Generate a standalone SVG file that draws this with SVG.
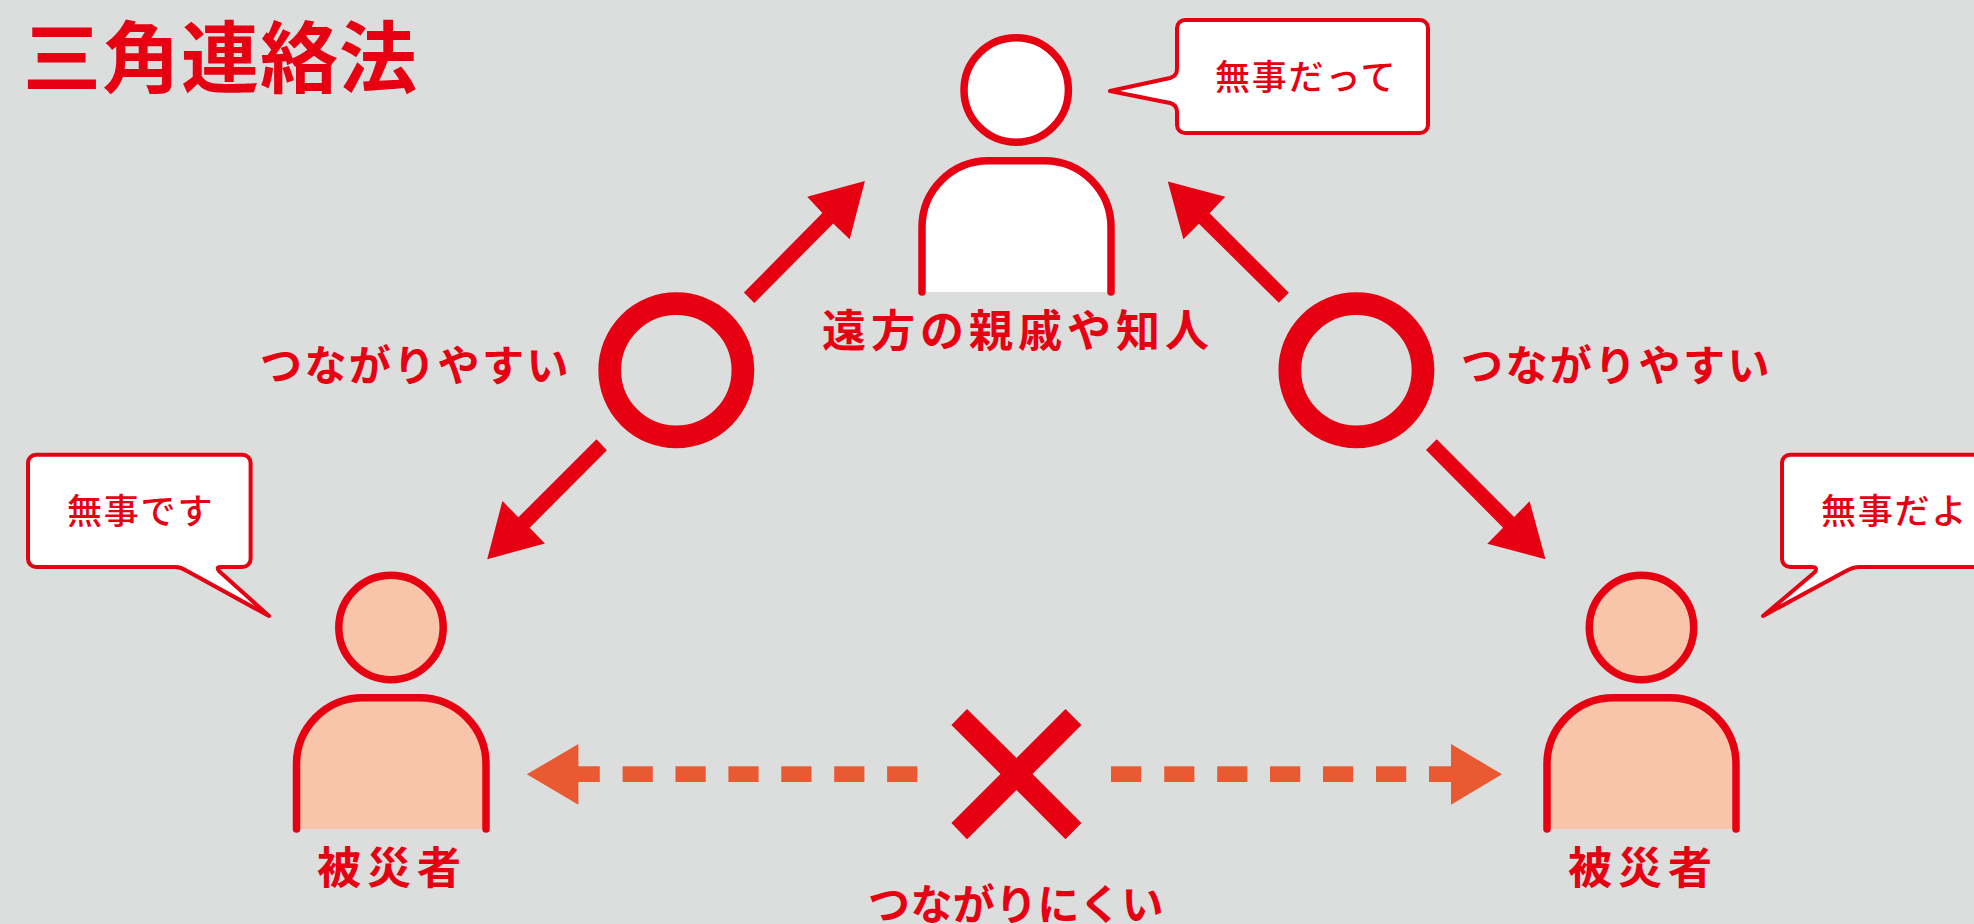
<svg xmlns="http://www.w3.org/2000/svg" width="1974" height="924" viewBox="0 0 1974 924">
<style>
text{font-family:"Noto Sans CJK JP","Noto Sans CJK SC",sans-serif;fill:#e60012}
.title{font-size:78px;font-weight:700;letter-spacing:1px}
.lab{font-size:44px;font-weight:700;letter-spacing:5px}
.vic{font-size:44px;font-weight:700;letter-spacing:6px}
.link{font-size:42px;font-weight:700;letter-spacing:2.4px}
.link2{font-size:42px;font-weight:700;letter-spacing:0.4px}
.say{font-size:35px;font-weight:500;letter-spacing:1.8px}
.bub{fill:#fff;stroke:#e60012;stroke-width:4;stroke-linejoin:round}
.body,.head{stroke:#e60012;stroke-width:7.5;stroke-linecap:round}
.white{fill:#fff}.peach{fill:#f8c5ab}
.ring{fill:none;stroke:#e60012;stroke-width:22.7}
.solid{fill:#e60012}
.dash{fill:#ea5a32}
</style>
<rect width="1974" height="924" fill="#dcdddd"/>
<text id="title" class="title" x="23" y="87">三角連絡法</text>

<g id="connectors">
<circle class="ring" cx="676.3" cy="370.3" r="66.6"/>
<circle class="ring" cx="1356.4" cy="370.3" r="66.6"/>
<polygon class="solid" points="743.9,292.5 822.4,213 807.2,196.7 864.9,181 849.7,239.3 833.2,223.5 754.3,303"/>
<polygon class="solid" points="596.5,439.3 518.4,517.3 502.4,501 487.2,559.3 544.9,543.5 529.7,527.7 606.9,450.3"/>
<polygon class="solid" points="1288.8,292.7 1209.6,213.3 1225.2,196.7 1167.8,181.5 1183.4,239.3 1198.9,223.7 1278.8,302.7"/>
<polygon class="solid" points="1436.7,439.3 1514.1,517 1529.6,501.3 1545.5,559.3 1487.3,543.7 1503.1,527.7 1426,450"/>
<polygon class="solid" points="967,709 1016.5,758 1065.5,709 1081.4,725 1032.5,774 1081.4,823 1065.5,839.3 1016.5,790 967,839.3 951.4,823 1000.5,774 951.4,725"/>
<polygon class="dash" points="526.8,774.3 578.4,744 578.4,766.3 599.8,766.3 599.8,782 578.4,782 578.4,804.7"/>
<polygon class="dash" points="1502,774.3 1451,744 1451,766.3 1429,766.3 1429,782 1451,782 1451,804.7"/>
<g class="dash">
<rect x="622.6" y="766.3" width="30.2" height="15.7"/><rect x="675.5" y="766.3" width="30.2" height="15.7"/><rect x="728.4" y="766.3" width="30.2" height="15.7"/><rect x="781.3" y="766.3" width="30.2" height="15.7"/><rect x="834.2" y="766.3" width="30.2" height="15.7"/><rect x="887.1" y="766.3" width="30.2" height="15.7"/>
<rect x="1111" y="766.3" width="30.2" height="15.7"/><rect x="1164.2" y="766.3" width="30.2" height="15.7"/><rect x="1217.2" y="766.3" width="30.2" height="15.7"/><rect x="1270" y="766.3" width="30.2" height="15.7"/><rect x="1323" y="766.3" width="30.2" height="15.7"/><rect x="1376" y="766.3" width="30.2" height="15.7"/>
</g>
</g>

<g id="relative">
<circle class="head white" cx="1016.2" cy="90" r="52.2"/>
<path class="body white" d="M922 292V227A66.5 66.5 0 0 1 988.5 160.75H1044.5A66.5 66.5 0 0 1 1111 227V292"/>
<path class="bub" d="M1185 20H1420a8 8 0 0 1 8 8V125a8 8 0 0 1-8 8H1185a8 8 0 0 1-8-8V112Q1177 105 1170 103L1110 91L1170 78Q1177 76 1177 69V28a8 8 0 0 1 8-8Z"/>
<text class="say" x="1215" y="90">無事だって</text>
<text class="lab" x="822" y="347">遠方の親戚や知人</text>
</g>

<g id="victim-left">
<circle class="head peach" cx="391" cy="627.5" r="52.2"/>
<path class="body peach" d="M296.5 829V765A66.5 66.5 0 0 1 363 697.75H419.5A66.5 66.5 0 0 1 486 765V829"/>
<path class="bub" d="M36 454.7H242.6a8 8 0 0 1 8 8V559a8 8 0 0 1-8 8H220Q216 567 219 571L269 616L187 571Q181 567 175 567H36a8 8 0 0 1-8-8V462.7a8 8 0 0 1 8-8Z"/>
<text class="say" x="67" y="524">無事です</text>
<text class="vic" x="317" y="884">被災者</text>
</g>

<g id="victim-right">
<circle class="head peach" cx="1641.5" cy="627.5" r="52.2"/>
<path class="body peach" d="M1547 829V765A66.5 66.5 0 0 1 1613.5 697.75H1669.5A66.5 66.5 0 0 1 1736 765V829"/>
<path class="bub" d="M1790 454.7H1990V567H1860Q1853 567 1846 571L1763 616L1815 572Q1818 567 1812 567H1790a8 8 0 0 1-8-8V462.7a8 8 0 0 1 8-8Z"/>
<text class="say" x="1821" y="524">無事だよ</text>
<text class="vic" x="1568" y="884">被災者</text>
</g>

<text id="label-left" class="link" x="260" y="381">つながりやすい</text>
<text id="label-right" class="link" x="1461" y="381">つながりやすい</text>
<text id="label-bottom" class="link2" x="868" y="920">つながりにくい</text>
</svg>
